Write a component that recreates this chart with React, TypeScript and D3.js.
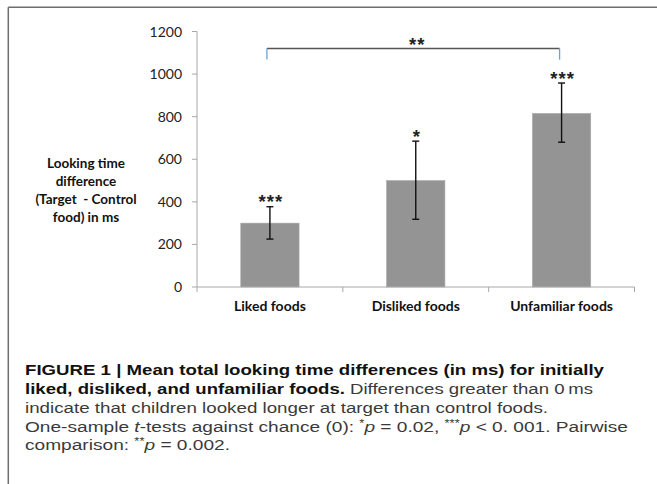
import React from "react";
import * as d3 from "d3";

const categories = ["Liked foods", "Disliked foods", "Unfamiliar foods"];
const means = [300, 500, 815];
const errLow = [225, 318, 680];
const errHigh = [377, 685, 958];
const stars = ["***", "*", "***"];
const yTicks = [0, 200, 400, 600, 800, 1000, 1200];
const bracketFrom = "Liked foods";
const bracketTo = "Unfamiliar foods";
const bracketValue = 1120;
const bracketDrop = 1068;
const bracketLabel = "**";
const yLabelLines = ["Looking time", "difference", "(Target  - Control", "food) in ms"];

const W = 657;
const H = 484;

export default function App() {
  const x = d3.scaleBand<string>().domain(categories).range([197, 634.5]).paddingInner(0.6).paddingOuter(0.3);
  const y = d3.scaleLinear().domain([0, 1200]).range([287, 31.5]);
  const step = x.step();
  const x0 = 197;
  const x1 = 634.5;
  const boundaries = d3.range(categories.length + 1).map((i) => x0 + i * step);
  const cx = (c: string) => (x(c) as number) + x.bandwidth() / 2;
  const tickFont = "Lato, 'Open Sans', sans-serif";
  const capFont = "'Liberation Sans', Arial, sans-serif";
  const adj = "spacingAndGlyphs";

  return (
    <svg width={W} height={H} style={{ position: "absolute", left: 0, top: 0, background: "#fff" }}>
      <rect x={0} y={0} width={W} height={H} fill="#fff" />
      {/* frame */}
      <line x1={8.3} y1={7.3} x2={W + 2} y2={7.3} stroke="#6e6e6e" strokeWidth={1.5} />
      <line x1={8.3} y1={7.3} x2={8.3} y2={H + 2} stroke="#6e6e6e" strokeWidth={1.5} />

      {/* y axis */}
      <line x1={x0} y1={y(0)} x2={x0} y2={y(1200)} stroke="#a8a8a8" strokeWidth={1} />
      {yTicks.map((t) => (
        <g key={t}>
          <line x1={x0 - 5} x2={x0} y1={y(t)} y2={y(t)} stroke="#a8a8a8" strokeWidth={1} />
          <text x={182} y={y(t) + 5} textAnchor="end" fontFamily={tickFont} fontSize={14} fill="#222">
            {t}
          </text>
        </g>
      ))}

      {/* bars */}
      {categories.map((c, i) => (
        <rect key={c} x={x(c)} y={y(means[i])} width={x.bandwidth()} height={y(0) - y(means[i])} fill="#949494" stroke="#a9a9a9" strokeWidth={0.6} />
      ))}

      {/* x axis */}
      <line x1={x0} y1={y(0)} x2={x1} y2={y(0)} stroke="#a8a8a8" strokeWidth={1} />
      {boundaries.map((b, i) => (
        <line key={i} x1={b} x2={b} y1={y(0)} y2={y(0) + 5} stroke="#a8a8a8" strokeWidth={1} />
      ))}
      {categories.map((c) => (
        <text key={c} x={cx(c)} y={311} textAnchor="middle" fontFamily={tickFont} fontWeight="bold" fontSize={14} fill="#111">
          {c}
        </text>
      ))}

      {/* error bars */}
      {categories.map((c, i) => (
        <g key={c} stroke="#111" strokeWidth={1.4}>
          <line x1={cx(c)} x2={cx(c)} y1={y(errLow[i])} y2={y(errHigh[i])} />
          <line x1={cx(c) - 3.5} x2={cx(c) + 3.5} y1={y(errLow[i])} y2={y(errLow[i])} />
          <line x1={cx(c) - 3.5} x2={cx(c) + 3.5} y1={y(errHigh[i])} y2={y(errHigh[i])} />
        </g>
      ))}

      {/* significance stars */}
      {categories.map((c, i) => (
        <text key={c} x={cx(c) + 1} y={y(errHigh[i]) + 1.5} textAnchor="middle" fontFamily={capFont} fontWeight="bold" fontSize={18.5} letterSpacing={1} fill="#222">
          {stars[i]}
        </text>
      ))}

      {/* bracket */}
      <line x1={cx(bracketFrom) - 3} x2={cx(bracketTo) - 2} y1={y(bracketValue)} y2={y(bracketValue)} stroke="#555" strokeWidth={1.5} />
      <line x1={cx(bracketFrom) - 3} x2={cx(bracketFrom) - 3} y1={y(bracketValue)} y2={y(bracketDrop)} stroke="#6f9fd8" strokeWidth={1.3} />
      <line x1={cx(bracketTo) - 2} x2={cx(bracketTo) - 2} y1={y(bracketValue)} y2={y(bracketDrop)} stroke="#6f9fd8" strokeWidth={1.3} />
      <text x={(cx(bracketFrom) + cx(bracketTo)) / 2 + 1.5} y={y(bracketValue) + 2} textAnchor="middle" fontFamily={capFont} fontWeight="bold" fontSize={18.5} letterSpacing={1} fill="#222">
        {bracketLabel}
      </text>

      {/* y label */}
      {yLabelLines.map((l, i) => (
        <text key={i} x={86} y={168.3 + i * 17.8} textAnchor="middle" fontFamily={tickFont} fontWeight="bold" fontSize={13.5} fill="#111" style={{ whiteSpace: "pre" }}>
          {l}
        </text>
      ))}

      {/* caption */}
      <g fontFamily={capFont} fontSize={15.5}>
        <text x={25} y={375} textLength={579} lengthAdjust={adj} fontWeight="bold" fill="#111">
          FIGURE 1 | Mean total looking time differences (in ms) for initially
        </text>
        <text x={25} y={394} textLength={568} lengthAdjust={adj} fill="#3a3a3a">
          <tspan fontWeight="bold" fill="#111">liked, disliked, and unfamiliar foods.</tspan>
          <tspan> Differences greater than 0{"\u2009"}ms</tspan>
        </text>
        <text x={25} y={412.7} textLength={523} lengthAdjust={adj} fill="#3a3a3a">
          indicate that children looked longer at target than control foods.
        </text>
        <text x={25} y={431.5} textLength={603} lengthAdjust={adj} fill="#3a3a3a">
          <tspan>One-sample </tspan>
          <tspan fontStyle="italic">t</tspan>
          <tspan>-tests against chance (0): </tspan>
          <tspan fontSize={10.5} dy={-5}>*</tspan>
          <tspan fontStyle="italic" dy={5}>p</tspan>
          <tspan> = 0.02, </tspan>
          <tspan fontSize={10.5} dy={-5}>***</tspan>
          <tspan fontStyle="italic" dy={5}>p</tspan>
          <tspan> &lt; 0. 001. Pairwise</tspan>
        </text>
        <text x={25} y={450} textLength={205} lengthAdjust={adj} fill="#3a3a3a">
          <tspan>comparison: </tspan>
          <tspan fontSize={10.5} dy={-5}>**</tspan>
          <tspan fontStyle="italic" dy={5}>p</tspan>
          <tspan> = 0.002.</tspan>
        </text>
      </g>
    </svg>
  );
}
